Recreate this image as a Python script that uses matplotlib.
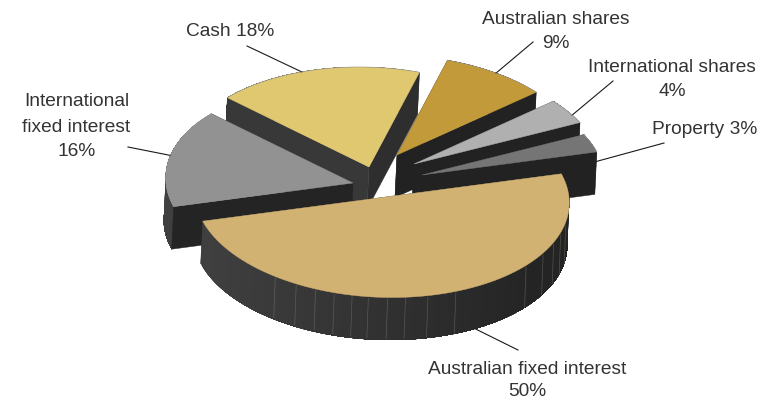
# Exploded 3D pie of an asset allocation, projected by hand onto a flat axes

import numpy as np
import matplotlib.pyplot as plt
from matplotlib.patches import Polygon

plt.rcParams['font.family'] = ['Liberation Sans', 'DejaVu Sans']

# slices, counter-clockwise from the right-hand edge of the big slice
names = ['Property', 'International shares', 'Australian shares', 'Cash',
         'International fixed interest', 'Australian fixed interest']
shares = [3, 4, 9, 18, 16, 50]
top_colors = ['#757575', '#b0b0b0', '#c39a39', '#dfc86f', '#929292', '#d2b272']
start_cut_colors = ['#222222', '#222222', '#222222', '#2e2e2e', '#333333', '#333333']
end_cut_colors = ['#222222', '#222222', '#222222', '#383838', '#242424', '#3a3a3a']

# layout: wedge tip on the canvas and radius scale for each slice
apex_x = [422, 414, 397, 369, 353, 382]
apex_y = [175, 164, 155, 167, 183, 197.5]
radius_scale = [0.975, 1.0, 1.0, 1.0, 1.0, 1.0]
paint_order = [2, 1, 0, 3, 4, 5]

start_angle = 13.7
rx, ry, shear = 187, 100, -10
depth_x, depth_y = -2, 42.5

# where each leader leaves the slice, and where it ends near the label
leader_angles = [14, 29.3, 55, 108, 164, 297]
leader_drop = [10, 0, 0, 0, 0, 42.5]
leader_end_x = [664, 613, 533, 247, 128, 518]
leader_end_y = [143, 81, 42, 46, 147, 350]

label_lines = [
    (0, ['Property {}%'], [704.5], [130]),
    (1, ['International shares', '{}%'], [672, 672], [67, 91]),
    (2, ['Australian shares', '{}%'], [556, 556], [20, 43]),
    (3, ['Cash {}%'], [230], [31]),
    (4, ['International', 'fixed interest', '{}%'], [76.5, 76.5, 77], [102, 127, 151]),
    (5, ['Australian fixed interest', '{}%'], [527, 527], [369, 392]),
]

# facet seams on the rim of the big slice, in degrees
seam_angles = [232, 239.5, 246, 252, 257.6, 262.6, 268.5, 274, 281, 290,
               317, 326, 333, 339, 345]


def rim_point(i, t):
    t = np.radians(t)
    s = radius_scale[i]
    x = apex_x[i] + s * (rx * np.cos(t) + shear * np.sin(t))
    y = apex_y[i] - s * ry * np.sin(t)
    return x, y


def extrude(xs, ys):
    xs, ys = np.asarray(xs, dtype=float), np.asarray(ys, dtype=float)
    return np.r_[xs, xs[::-1] + depth_x], np.r_[ys, ys[::-1] + depth_y]


def rim_gray(t):
    value = np.interp(np.cos(np.radians(t)), [-1, 0.8], [0.25, 0.14])
    return (value, value, value)


def draw_slice(ax, i, t0, t1):
    ts = np.linspace(t0, t1, max(int(t1 - t0), 2) + 1)
    rim_x, rim_y = rim_point(i, ts)
    tip_x, tip_y = apex_x[i], apex_y[i]

    # back-to-front by mean height on the canvas
    faces = []
    x, y = extrude([tip_x, rim_x[0]], [tip_y, rim_y[0]])
    faces.append((y.mean(), 'cut', x, y, start_cut_colors[i]))
    x, y = extrude([tip_x, rim_x[-1]], [tip_y, rim_y[-1]])
    faces.append((y.mean(), 'cut', x, y, end_cut_colors[i]))
    faces.append((extrude(rim_x, rim_y)[1].mean(), 'rim', None, None, None))

    for _, kind, x, y, color in sorted(faces, key=lambda f: f[0]):
        if kind == 'cut':
            ax.add_patch(Polygon(np.c_[x, y], fc=color, ec=color, lw=0.3))
            continue
        # each strip runs to the far end so neighbours leave no hairline gaps
        for j in range(len(ts) - 1):
            x, y = extrude(rim_x[j:], rim_y[j:])
            ax.add_patch(Polygon(np.c_[x, y], fc=rim_gray(ts[j]), ec='none'))

    if i == 5:
        for t in seam_angles:
            sx, sy = rim_point(i, t)
            ax.plot([sx + 0.5, sx - 1], [sy + 1, sy + depth_y - 1],
                    color='#8f8778', lw=0.5, alpha=0.45, solid_capstyle='butt')

    top = np.c_[np.r_[tip_x, rim_x], np.r_[tip_y, rim_y]]
    ax.add_patch(Polygon(top, fc=top_colors[i], ec=top_colors[i], lw=0.3))
    if i != 5:
        ax.plot(rim_x, rim_y, color='#a0a0a0', lw=0.5, alpha=0.8)


def main():
    fig = plt.figure(figsize=(7.81, 4.0), dpi=100)
    ax = fig.add_axes([0, 0, 1, 1])
    ax.set_xlim(0, 781)
    ax.set_ylim(400, 0)
    ax.axis('off')

    # slice angles come straight from the shares
    spans = np.array(shares) * 3.6
    starts = start_angle + np.r_[0, np.cumsum(spans)[:-1]]

    for i in range(len(shares)):
        x, y = rim_point(i, leader_angles[i])
        ax.plot([x, leader_end_x[i]], [y + leader_drop[i], leader_end_y[i]],
                color='#1a1a1a', lw=0.8)

    for i in paint_order:
        draw_slice(ax, i, starts[i], starts[i] + spans[i])

    for i, lines, xs, ys in label_lines:
        for line, x, y in zip(lines, xs, ys):
            ax.text(x, y, line.format(shares[i]), ha='center', va='center',
                    fontsize=13.8, color='#333333')

    fig.savefig('out.png', dpi=100)


if __name__ == "__main__":
    main()
